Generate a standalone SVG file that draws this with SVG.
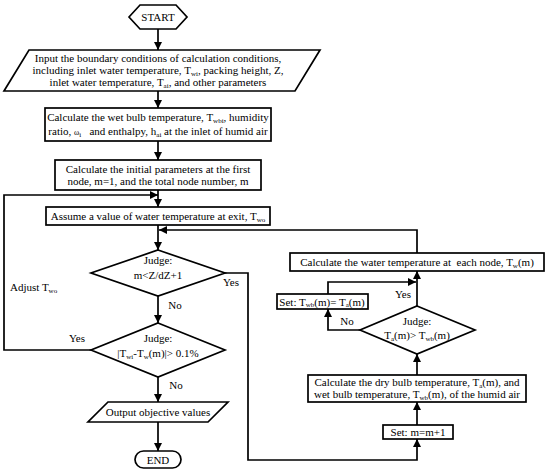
<svg xmlns="http://www.w3.org/2000/svg" width="550" height="472" viewBox="0 0 550 472">
<style>
.s{fill:#fff;stroke:#000;stroke-width:1.7}
.c{fill:none;stroke:#000;stroke-width:1.7}
text{font-family:"Liberation Serif","Times New Roman",serif;font-size:11px;fill:#000}
.m{text-anchor:middle}
.b{font-size:7px}
</style>
<defs>
<marker id="ah" viewBox="0 0 10 10" refX="10" refY="5" markerWidth="9" markerHeight="8" orient="auto" markerUnits="userSpaceOnUse"><path d="M0,0 L10,5 L0,10 z" fill="#000"/></marker>
</defs>
<rect width="550" height="472" fill="#fff"/>
<g id="connectors" class="c" marker-end="url(#ah)">
<path d="M158,29 V50"/>
<path d="M158,91 V108"/>
<path d="M158,141 V160"/>
<path d="M158,190 V207"/>
<path d="M158,225 V250"/>
<path d="M158,296 V323"/>
<path d="M158,377 V402"/>
<path d="M158,422 V451"/>
<path d="M91,350 H4 V195 H158"/>
<path d="M225,273 H248 V460 H417 V439"/>
<path d="M417,253 V230 H159"/>
<path d="M417,306 V271"/>
<path d="M328,294 V282 H416"/>
<path d="M360,330 H328 V309"/>
<path d="M417,375 V354"/>
<path d="M417,425 V402"/>
</g>
<g id="start">
<polygon class="s" points="129,17 140,5 176,5 187,17 176,29 140,29"/>
<text class="m" x="158" y="21">START</text>
</g>
<g id="input">
<polygon class="s" points="29,50 320,50 295,91 4,91"/>
<text class="m" x="158" y="62">Input the boundary conditions of calculation conditions,</text>
<text class="m" x="158" y="74">including inlet water temperature, T<tspan class="b" dy="1.5">wi</tspan><tspan dy="-1.5">, packing height, Z,</tspan></text>
<text class="m" x="158" y="86">inlet water temperature, T<tspan class="b" dy="1.5">ai</tspan><tspan dy="-1.5">, and other parameters</tspan></text>
</g>
<g id="wetbulb">
<rect class="s" x="45" y="108" width="226" height="33"/>
<text class="m" x="158" y="121">Calculate the wet bulb temperature, T<tspan class="b" dy="1.5">wbi</tspan><tspan dy="-1.5">, humidity</tspan></text>
<text class="m" x="158" y="135">ratio, <tspan font-size="8">ω</tspan><tspan class="b" dy="1.5">i</tspan><tspan dy="-1.5">&#160;&#160; and enthalpy, h</tspan><tspan class="b" dy="1.5">ai</tspan><tspan dy="-1.5"> at the inlet of humid air</tspan></text>
</g>
<g id="initial">
<rect class="s" x="55" y="160" width="206" height="30"/>
<text class="m" x="158" y="173">Calculate the initial parameters at the first</text>
<text class="m" x="158" y="185">node, m=1, and the total node number, m</text>
</g>
<g id="assume">
<rect class="s" x="46" y="207" width="224" height="18"/>
<text class="m" x="158" y="220">Assume a value of water temperature at exit, T<tspan class="b" dy="1.5">wo</tspan></text>
</g>
<g id="judge1">
<polygon class="s" points="158,250 225,273 158,296 91,273"/>
<text class="m" x="158" y="264">Judge:</text>
<text class="m" x="158" y="279">m&lt;Z/dZ+1</text>
</g>
<g id="judge2">
<polygon class="s" points="158,323 225,350 158,377 91,350"/>
<text class="m" x="158" y="342">Judge:</text>
<text class="m" x="158" y="357">|T<tspan class="b" dy="1.5">wi</tspan><tspan dy="-1.5">-T</tspan><tspan class="b" dy="1.5">w</tspan><tspan dy="-1.5">(m)|&gt; 0.1%</tspan></text>
</g>
<g id="output">
<polygon class="s" points="108,402 228,402 208,422 88,422"/>
<text class="m" x="158" y="416">Output objective values</text>
</g>
<g id="end">
<rect class="s" x="135" y="451" width="46" height="17" rx="8.5"/>
<text class="m" x="158" y="463.5">END</text>
</g>
<g id="watertemp">
<rect class="s" x="290" y="253" width="254" height="18"/>
<text class="m" x="417" y="266">Calculate the water temperature at&#160; each node, T<tspan class="b" dy="1.5">w</tspan><tspan dy="-1.5">(m)</tspan></text>
</g>
<g id="setwb">
<rect class="s" x="277" y="294" width="91" height="15"/>
<text class="m" x="322" y="305.5">Set: T<tspan class="b" dy="1.5">wb</tspan><tspan dy="-1.5">(m)= T</tspan><tspan class="b" dy="1.5">a</tspan><tspan dy="-1.5">(m)</tspan></text>
</g>
<g id="judge3">
<polygon class="s" points="417,306 475,330 417,354 360,330"/>
<text class="m" x="417" y="325">Judge:</text>
<text class="m" x="417" y="339">T<tspan class="b" dy="1.5">a</tspan><tspan dy="-1.5">(m)&gt; T</tspan><tspan class="b" dy="1.5">wb</tspan><tspan dy="-1.5">(m)</tspan></text>
</g>
<g id="drybulb">
<rect class="s" x="308" y="375" width="218" height="27"/>
<text class="m" x="417" y="386">Calculate the dry bulb temperature, T<tspan class="b" dy="1.5">a</tspan><tspan dy="-1.5">(m), and</tspan></text>
<text class="m" x="417" y="398">wet bulb temperature, T<tspan class="b" dy="1.5">wb</tspan><tspan dy="-1.5">(m), of the humid air</tspan></text>
</g>
<g id="setm">
<rect class="s" x="383" y="425" width="70" height="14"/>
<text class="m" x="418" y="436">Set: m=m+1</text>
</g>
<g id="labels">
<text class="m" x="231" y="286">Yes</text>
<text class="m" x="175" y="309">No</text>
<text class="m" x="77" y="342">Yes</text>
<text x="10" y="291">Adjust T<tspan class="b" dy="1.5">wo</tspan></text>
<text class="m" x="176" y="389">No</text>
<text class="m" x="403" y="298">Yes</text>
<text class="m" x="347" y="325">No</text>
</g>
</svg>
